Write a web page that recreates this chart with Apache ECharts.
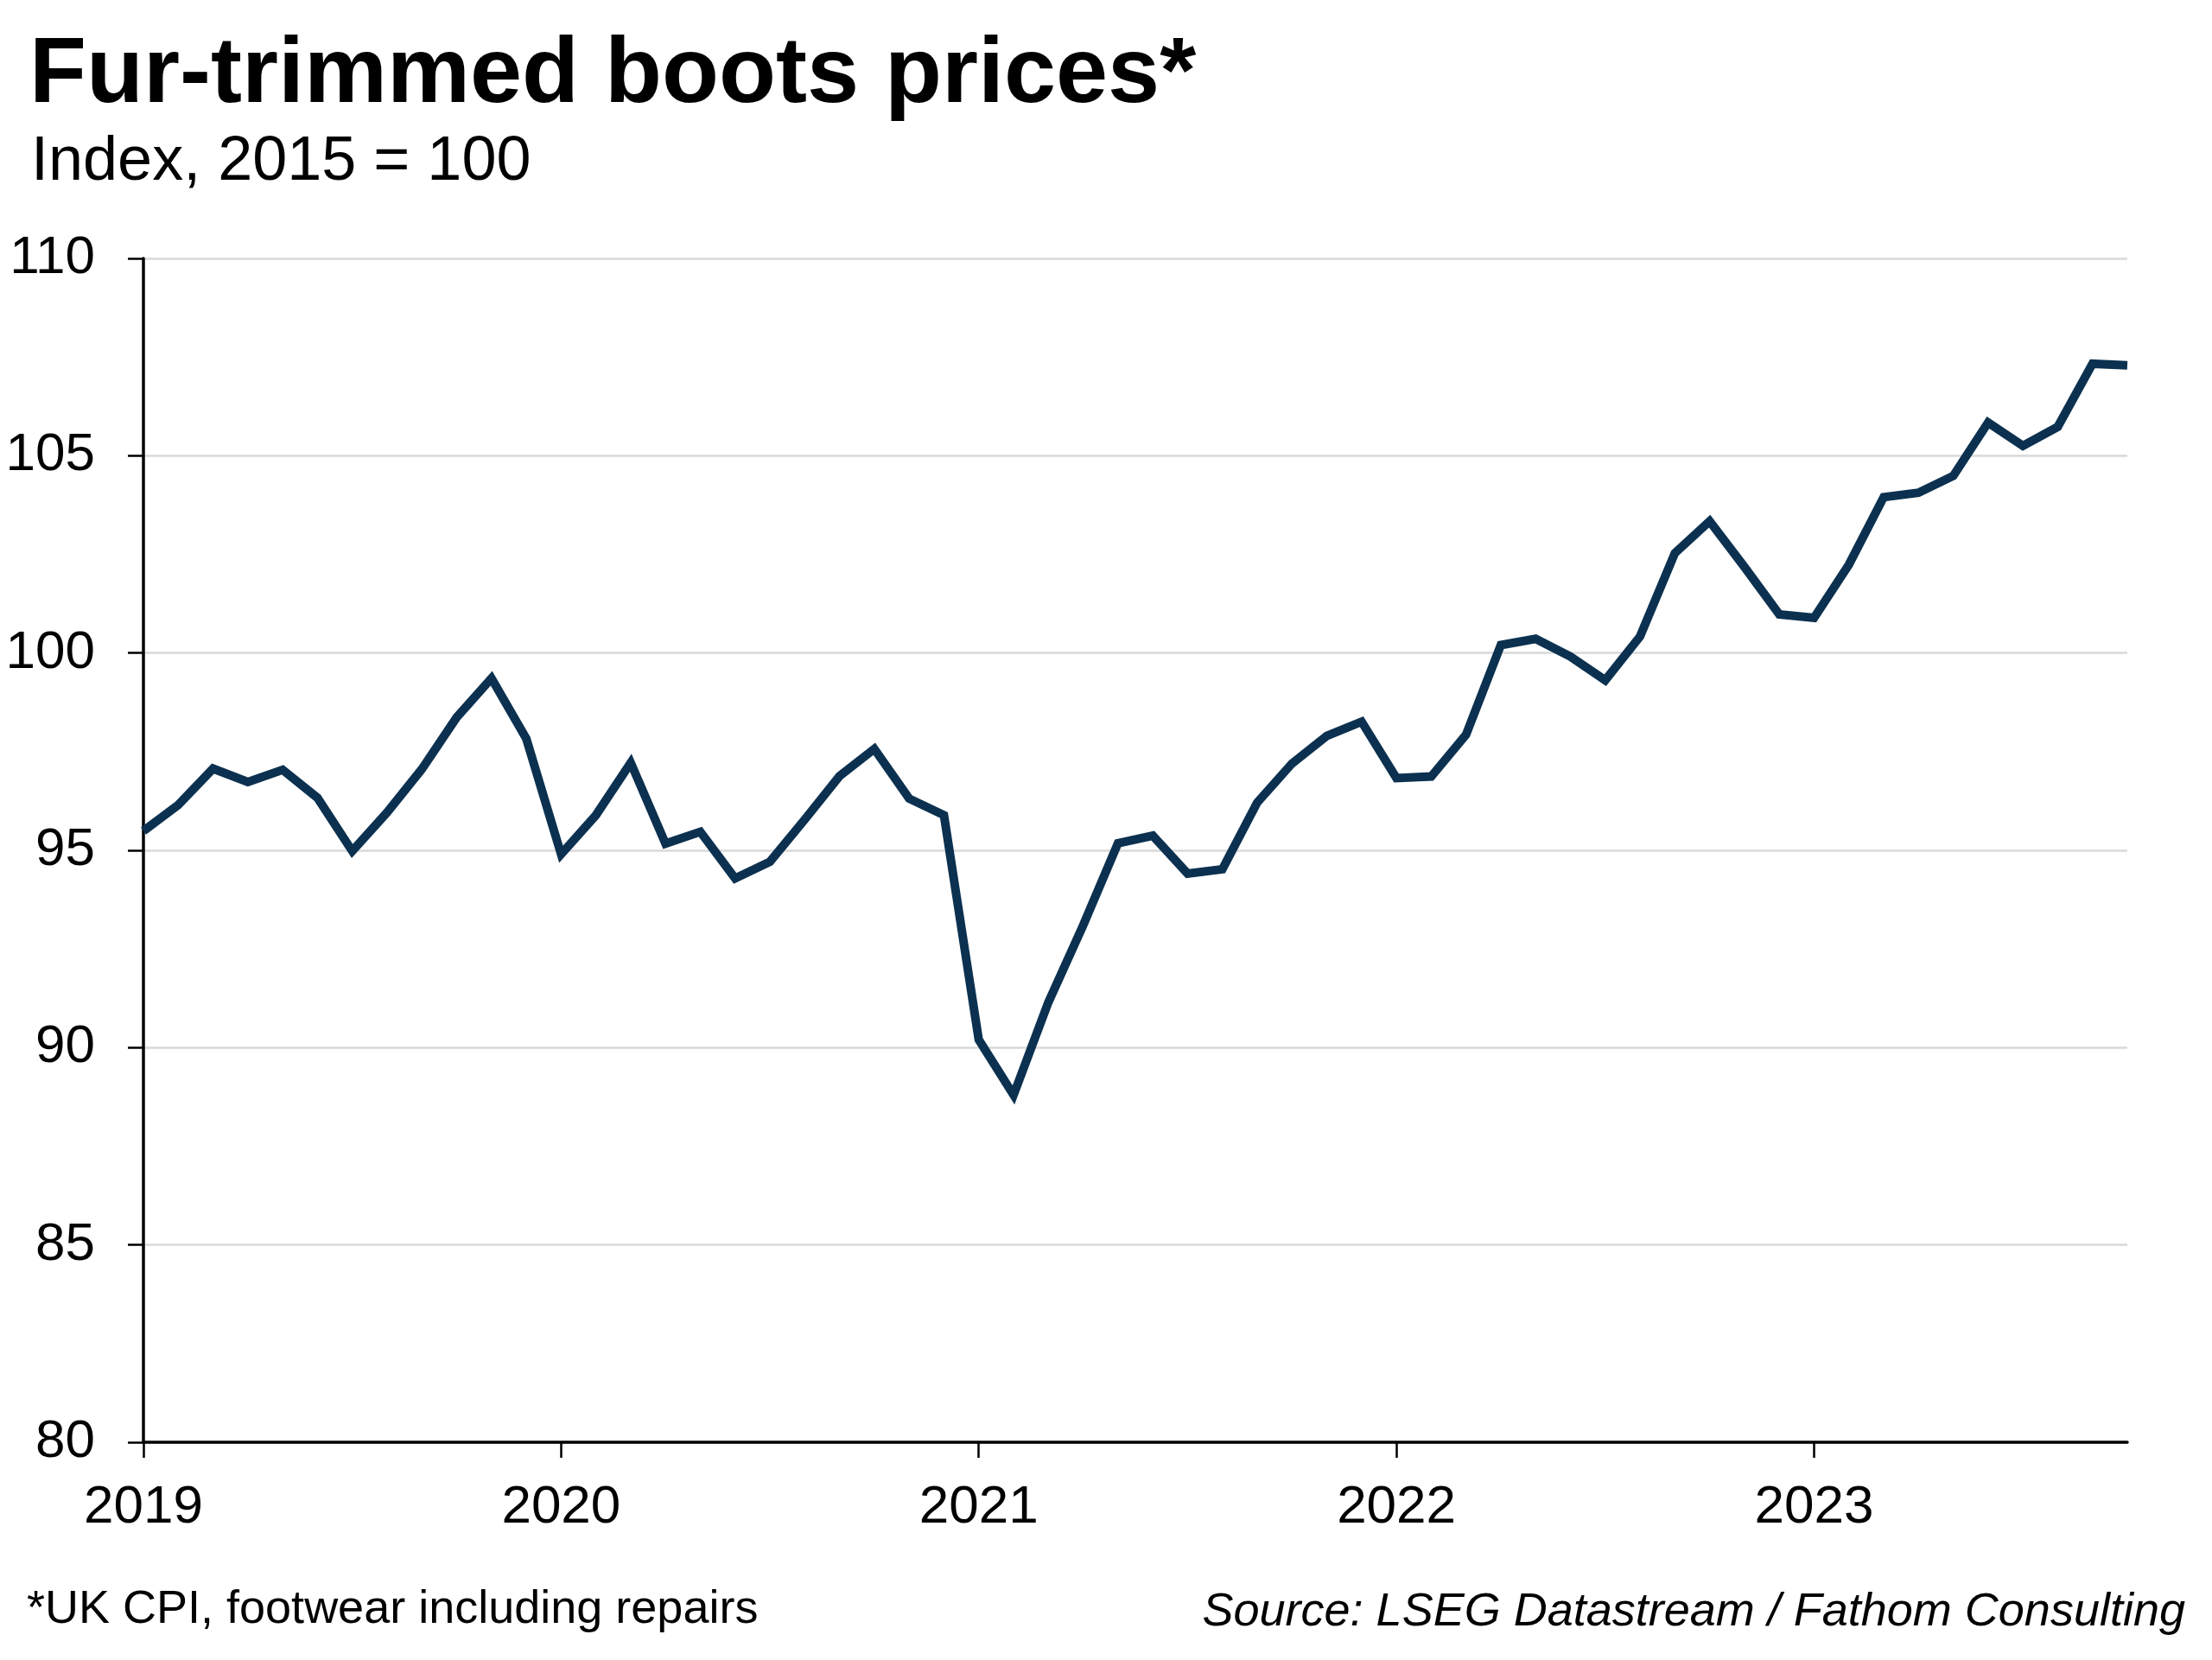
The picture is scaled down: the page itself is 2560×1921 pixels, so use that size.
<!DOCTYPE html>
<html>
<head>
<meta charset="utf-8">
<script src="https://cdn.jsdelivr.net/npm/echarts@6/dist/echarts.min.js"></script>
<style>
html,body{margin:0;padding:0;background:#fff;}
#chart{width:2560px;height:1921px;}
</style>
</head>
<body>
<div id="chart"></div>
<script>
const months = [
  'Jan 2019','Feb 2019','Mar 2019','Apr 2019','May 2019','Jun 2019','Jul 2019','Aug 2019','Sep 2019','Oct 2019','Nov 2019','Dec 2019',
  'Jan 2020','Feb 2020','Mar 2020','Apr 2020','May 2020','Jun 2020','Jul 2020','Aug 2020','Sep 2020','Oct 2020','Nov 2020','Dec 2020',
  'Jan 2021','Feb 2021','Mar 2021','Apr 2021','May 2021','Jun 2021','Jul 2021','Aug 2021','Sep 2021','Oct 2021','Nov 2021','Dec 2021',
  'Jan 2022','Feb 2022','Mar 2022','Apr 2022','May 2022','Jun 2022','Jul 2022','Aug 2022','Sep 2022','Oct 2022','Nov 2022','Dec 2022',
  'Jan 2023','Feb 2023','Mar 2023','Apr 2023','May 2023','Jun 2023','Jul 2023','Aug 2023','Sep 2023','Oct 2023'
];
const bootsIndex = [
  95.49, 96.15, 97.07, 96.73, 97.04, 96.33, 94.98, 95.96, 97.06, 98.37, 99.36, 97.83,
  94.90, 95.89, 97.22, 95.17, 95.47, 94.29, 94.71, 95.78, 96.88, 97.57, 96.31, 95.89,
  90.20, 88.80, 91.15, 93.10, 95.18, 95.37, 94.41, 94.52, 96.21, 97.20, 97.90, 98.26,
  96.83, 96.87, 97.93, 100.20, 100.36, 99.91, 99.31, 100.42, 102.53, 103.34, 102.18, 100.98,
  100.89, 102.24, 103.95, 104.06, 104.49, 105.84, 105.25, 105.73, 107.33, 107.29
];
const yearLabels = ['2019','2020','2021','2022','2023'];
const yTicks = {min: 80, max: 110, step: 5};

const titleText = 'Fur-trimmed boots prices*';
const subtitleText = 'Index, 2015 = 100';
const noteText = '*UK CPI, footwear including repairs';
const sourceText = 'Source: LSEG Datastream / Fathom Consulting';

const FONT = "'Liberation Sans', Arial, Helvetica, sans-serif";
const chart = echarts.init(document.getElementById('chart'));

chart.setOption({
  backgroundColor: '#ffffff',
  animation: false,
  title: [
    {text: titleText, left: 34, top: 34, padding: 0,
     textStyle: {fontFamily: FONT, fontSize: 108, fontWeight: 'bold', color: '#000', lineHeight: 108}},
    {text: subtitleText, left: 36, top: 152, padding: 0,
     textStyle: {fontFamily: FONT, fontSize: 72, fontWeight: 'normal', color: '#000', lineHeight: 72}},
    {text: noteText, left: 31, top: 1836, padding: 0,
     textStyle: {fontFamily: FONT, fontSize: 54, fontWeight: 'normal', color: '#000', lineHeight: 54}},
    {text: sourceText, right: 31, top: 1839, padding: 0,
     textStyle: {fontFamily: FONT, fontSize: 54, fontWeight: 'normal', fontStyle: 'italic', color: '#000', lineHeight: 54}}
  ],
  grid: {left: 166, right: 98, top: 299, bottom: 252, containLabel: false},
  xAxis: {
    type: 'category',
    data: months,
    boundaryGap: false,
    axisLine: {show: true, lineStyle: {color: '#000', width: 3.5}},
    axisTick: {show: true, length: 18, lineStyle: {color: '#000', width: 2.5},
      interval: function (i) { return i % 12 === 0; }},
    axisLabel: {
      interval: function (i) { return i % 12 === 0; },
      formatter: function (v, i) { return yearLabels[Math.floor(i / 12)] || ''; },
      fontFamily: FONT, fontSize: 62, color: '#000', margin: 45
    },
    splitLine: {show: false}
  },
  yAxis: {
    type: 'value',
    min: yTicks.min, max: yTicks.max, interval: yTicks.step,
    axisLine: {show: true, lineStyle: {color: '#000', width: 3.5}},
    axisTick: {show: true, length: 18, lineStyle: {color: '#000', width: 2.5}},
    axisLabel: {fontFamily: FONT, fontSize: 62, color: '#000', margin: 56},
    splitLine: {show: true, lineStyle: {color: '#d9d9d9', width: 2.5}}
  },
  series: [{
    type: 'line',
    data: bootsIndex,
    showSymbol: false,
    symbol: 'none',
    lineStyle: {color: '#0c3150', width: 10, join: 'miter'},
    z: 3
  }]
});
</script>
</body>
</html>
